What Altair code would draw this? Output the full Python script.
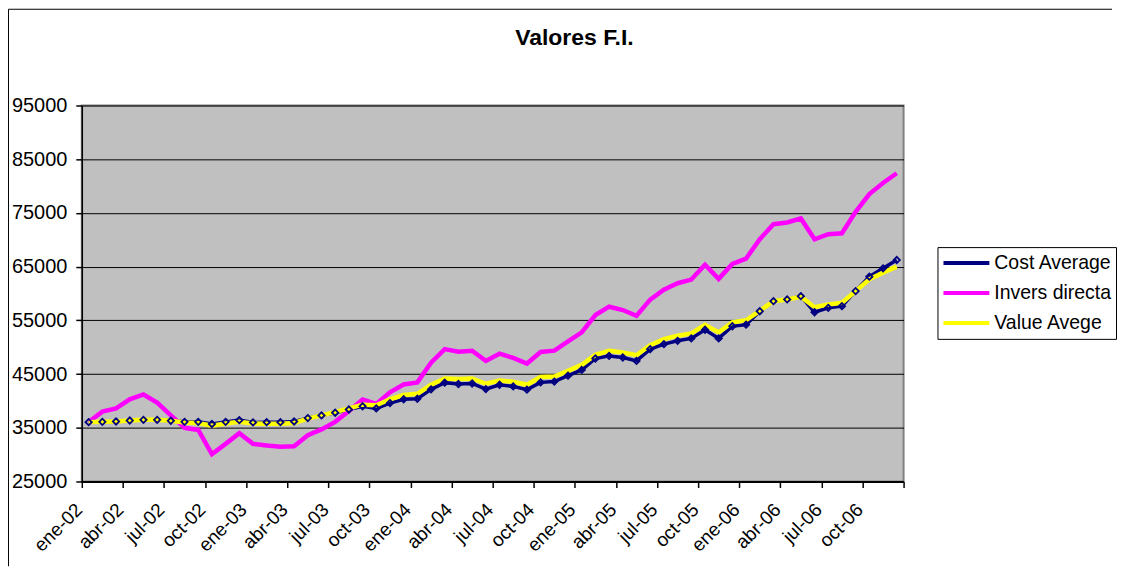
import altair as alt
import pandas as pd

months = ["ene", "feb", "mar", "abr", "may", "jun", "jul", "ago", "sep", "oct", "nov", "dic"]
years = ["02", "03", "04", "05", "06"]
categories = [f"{m}-{y}" for y in years for m in months]
tick_labels = categories[::3]

series_names = ["Cost Average", "Invers directa", "Value Avege"]
series_colors = ["#000080", "#FF00FF", "#FFFF00"]

cost_average = [
    36050, 36100, 36170, 36350, 36480, 36480, 36300, 36100, 36100, 35700, 36100, 36420,
    36000, 36050, 36050, 36170, 36800, 37300, 37800, 38400, 39000, 38600, 39600, 40300,
    40400, 42150, 43400, 43150, 43250, 42200, 43000, 42700, 42100, 43450, 43600, 44700,
    45770, 47900, 48380, 48080, 47450, 49640, 50570, 51190, 51640, 53240, 51640, 53900,
    54200, 56700, 58570, 58890, 59500, 56510, 57330, 57640, 60440, 63130, 64680, 66230,
]
invers_directa = [
    36060, 38000, 38600, 40300, 41200, 39700, 37300, 35000, 34600, 30100, 32000, 34000,
    32000, 31700, 31450, 31550, 33600, 34700, 36100, 38100, 40250, 39450, 41600, 43050,
    43450, 47100, 49650, 49150, 49350, 47450, 48800, 48000, 46950, 49100, 49350, 51100,
    52760, 55990, 57540, 56920, 55860, 58850, 60720, 61910, 62590, 65340, 62720, 65500,
    66490, 70100, 72900, 73220, 73970, 70100, 71040, 71220, 75210, 78510, 80570, 82380,
]
value_avege = [
    36050, 36100, 36170, 36350, 36480, 36480, 36300, 36000, 35900, 35400, 35800, 36100,
    35800, 35750, 35750, 35900, 36700, 37300, 37900, 38600, 39300, 39200, 40300, 41100,
    41320, 43000, 44180, 44070, 44180, 43190, 43800, 43560, 43000, 44440, 44550, 45600,
    46700, 48570, 49320, 49020, 48510, 50380, 51500, 52120, 52570, 54180, 52760, 54600,
    55020, 56760, 58570, 58890, 59390, 57450, 57960, 58270, 60440, 62630, 63880, 65000,
]
y_ticks = [25000, 35000, 45000, 55000, 65000, 75000, 85000, 95000]

rows = []
for name, vals in zip(series_names, [cost_average, invers_directa, value_avege]):
    for i, v in enumerate(vals):
        rows.append({"idx": i, "mes": categories[i], "serie": name, "valor": v})
df = pd.DataFrame(rows)

FONT = "Liberation Sans"
half = 0.5
x_tick_values = [-half + 3 * k for k in range(21)]
label_array = "[" + ",".join(f"'{t}'" for t in tick_labels + [""]) + "]"

x_enc = alt.X(
    "idx:Q",
    scale=alt.Scale(domain=[-half, len(categories) - half], nice=False, zero=False),
    axis=alt.Axis(
        values=x_tick_values,
        labelExpr=f"{label_array}[round((datum.value + {half}) / 3)]",
        labelAngle=-45, labelAlign="right", labelBaseline="middle",
        labelOffset=-3, labelPadding=19, labelFlush=False, labelOverlap=False,
        labelFont=FONT, labelFontSize=19, labelColor="black",
        tickSize=6, tickColor="black", tickWidth=1.5,
        domainColor="black", domainWidth=2, grid=False, title=None,
    ),
)
y_enc = alt.Y(
    "valor:Q",
    scale=alt.Scale(domain=[25000, 95000], nice=False, zero=False),
    axis=alt.Axis(
        values=y_ticks, format="d", grid=True, gridColor="black", gridWidth=1,
        labelFont=FONT, labelFontSize=20, labelColor="black", labelPadding=9,
        labelFlush=False, tickSize=6, tickColor="black", tickWidth=1.5,
        domainColor="black", domainWidth=1.5, title=None,
    ),
)
color_enc = alt.Color(
    "serie:N",
    scale=alt.Scale(domain=series_names, range=series_colors),
    legend=alt.Legend(
        title=None, orient="none", legendX=858, legendY=142,
        symbolType="stroke", symbolSize=2116, symbolStrokeWidth=4,
        labelFont=FONT, labelFontSize=19.5, labelColor="black", labelOffset=3,
        labelLimit=400, strokeColor="black", fillColor="white",
        padding=4, rowPadding=6, clipHeight=24,
    ),
)

base = alt.Chart(df)
line_ca = base.transform_filter(alt.datum.serie == "Cost Average").mark_line(strokeWidth=3.5).encode(x=x_enc, y=y_enc, color=color_enc)
pts_ca = base.transform_filter(alt.datum.serie == "Cost Average").mark_point(
    shape="diamond", filled=False, size=40, opacity=1, color="#000080", strokeWidth=1.8
).encode(x="idx:Q", y="valor:Q")
line_id = base.transform_filter(alt.datum.serie == "Invers directa").mark_line(strokeWidth=4.5).encode(x="idx:Q", y="valor:Q", color=color_enc)
line_va = base.transform_filter(alt.datum.serie == "Value Avege").mark_line(strokeWidth=4.5).encode(x="idx:Q", y="valor:Q", color=color_enc)

frame_df = pd.DataFrame({"k": [0]})
frame = alt.Chart(frame_df)
top_line = frame.mark_rule(color="black", strokeWidth=1).encode(
    x=alt.value(-73.5), x2=alt.value(1033), y=alt.value(-96.5))
left_line = frame.mark_rule(color="black", strokeWidth=1).encode(
    x=alt.value(-73.5), y=alt.value(-96.5), y2=alt.value(462))

chart = alt.layer(line_ca, line_id, line_va, pts_ca, top_line, left_line).properties(
    width=824, height=377, padding=0, background="white",
    title=alt.TitleParams(
        "Valores F.I.", font=FONT, fontSize=23, fontWeight="bold", color="black",
        anchor="middle", offset=0, dx=82, dy=59.5, baseline="alphabetic",
    ),
).configure_view(fill="#C0C0C0", stroke="#808080", strokeWidth=2)

chart.save("out.html", embed_options={"renderer": "svg", "actions": False})
